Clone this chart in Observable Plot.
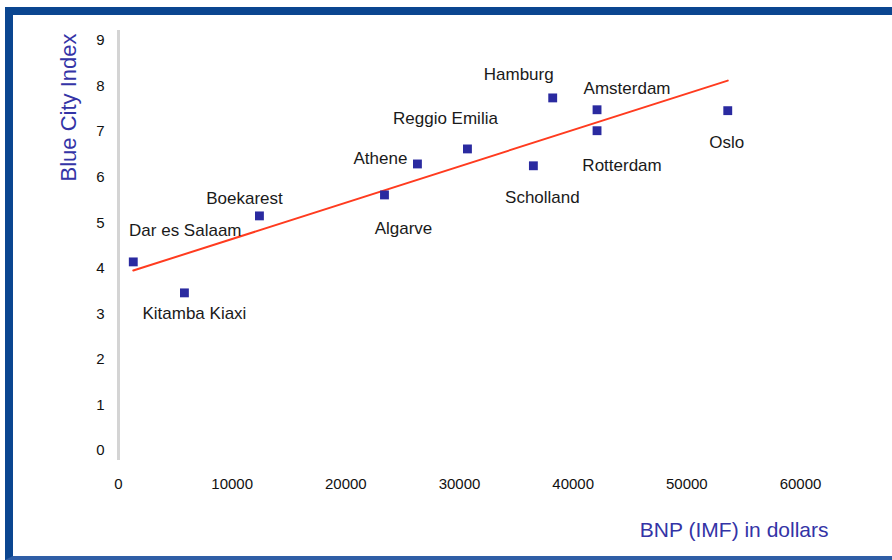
<!DOCTYPE html>
<html>
<head>
<meta charset="utf-8">
<script src="https://cdn.jsdelivr.net/npm/d3@7"></script>
<script src="https://cdn.jsdelivr.net/npm/@observablehq/plot@0.6"></script>
<style>
  html, body { margin: 0; padding: 0; background: #fff; width: 892px; height: 560px; overflow: hidden; }
  #frame {
    position: absolute; left: 5px; top: 7px; width: 920px; height: 553px;
    box-sizing: border-box;
    border-top: 8px solid #0b4690; border-left: 8px solid #0b4690; border-bottom: 4px solid #2f5ea6;
    background: #fff;
  }
  #chart { position: absolute; left: 0; top: 0; }
  #chart svg { font-family: "Liberation Sans", Arial, sans-serif; background: transparent; }
</style>
</head>
<body>
<div id="frame"></div>
<div id="chart"></div>
<script>
// ---- data ----
const cities = ["Dar es Salaam", "Kitamba Kiaxi", "Boekarest", "Algarve", "Athene", "Reggio Emilia",
                "Hamburg", "Scholland", "Amsterdam", "Rotterdam", "Oslo"];
const gdp = [1300, 5800, 12400, 23400, 26300, 30700, 38200, 36500, 42100, 42100, 53600];
const blueIndex = [4.14, 3.46, 5.15, 5.61, 6.29, 6.62, 7.74, 6.25, 7.48, 7.02, 7.46];
const trendGdp = [1300, 53600];
const trendIndex = [3.95, 8.12];
const xTicks = [0, 10000, 20000, 30000, 40000, 50000, 60000];
const yTicks = [0, 1, 2, 3, 4, 5, 6, 7, 8, 9];
const xTitle = "BNP (IMF) in dollars";
const yTitle = "Blue City Index";

// ---- layout ----
const points = cities.map((c, i) => ({city: c, gdp: gdp[i], index: blueIndex[i]}));
const trend = trendGdp.map((g, i) => ({gdp: g, index: trendIndex[i]}));
const labelOffset = {
  "Dar es Salaam": [52, -31], "Kitamba Kiaxi": [10, 21], "Boekarest": [-15, -17],
  "Algarve": [19, 34], "Athene": [-37, -5], "Reggio Emilia": [-22, -30],
  "Hamburg": [-34, -23], "Scholland": [9, 32], "Amsterdam": [30, -21],
  "Rotterdam": [25, 35], "Oslo": [-1, 32]
};

const labelMarks = points.map(p => Plot.text([p], {
  x: "gdp", y: "index", text: "city",
  dx: labelOffset[p.city][0], dy: labelOffset[p.city][1],
  fontSize: 17, fill: "#1a1a1a", textAnchor: "middle", lineAnchor: "middle",
  style: "letter-spacing:0.7px"
}));

const chart = Plot.plot({
  width: 892, height: 560,
  marginLeft: 118, marginRight: 92, marginTop: 30, marginBottom: 100,
  x: {domain: [0, 60000]},
  y: {domain: [-0.22, 9.22]},
  marks: [
    Plot.ruleX([0], {stroke: "#d4d4d4", strokeWidth: 3}),
    Plot.axisX({ticks: xTicks, tickSize: 0, tickPadding: 18, fontSize: 15, fill: "#111",
                tickFormat: d => String(d), label: null}),
    Plot.axisY({ticks: yTicks, tickSize: 0, tickPadding: 14, fontSize: 15, fill: "#111",
                tickFormat: d => String(d), label: null}),
    Plot.line(trend, {x: "gdp", y: "index", stroke: "#ff3b1f", strokeWidth: 2}),
    Plot.dot(points, {x: "gdp", y: "index", symbol: "square", r: 5, fill: "#2a2aa0", stroke: "none"}),
    ...labelMarks,
    Plot.text([xTitle], {frameAnchor: "bottom-right", dx: 28, dy: 70, text: d => d,
                         fontSize: 21, fill: "#3434a6", textAnchor: "end", lineAnchor: "middle"}),
    Plot.text([yTitle], {frameAnchor: "top-left", dx: -50, dy: 3, rotate: -90, text: d => d,
                         fontSize: 22, fill: "#3434a6", textAnchor: "end", lineAnchor: "middle",
                         style: "letter-spacing:1px"})
  ]
});
document.getElementById("chart").appendChild(chart);
</script>
</body>
</html>
